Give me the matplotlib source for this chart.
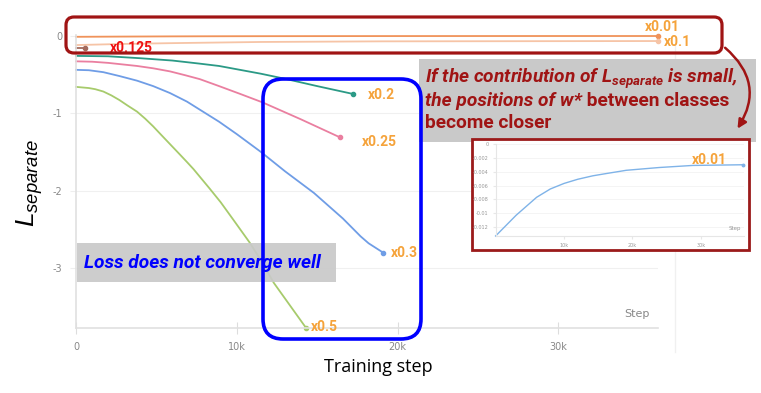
import numpy as np
import matplotlib
matplotlib.use("Agg")
import matplotlib.pyplot as plt
from matplotlib.patches import FancyBboxPatch, FancyArrowPatch, Rectangle

plt.rcParams['mathtext.fontset'] = 'custom'
plt.rcParams['mathtext.it'] = 'Liberation Sans:italic'
plt.rcParams['mathtext.rm'] = 'Liberation Sans'
plt.rcParams['mathtext.bf'] = 'Roboto:bold:italic'

# --- data (steps in thousands) ---
x001_steps = [0, 1, 2.1, 3, 4.5, 6.0, 8, 10.0, 12, 14.2, 16, 19.1, 23.9, 28.8, 36.2]
x001_vals = [-0.0133, -0.0123, -0.0112, -0.0103, -0.0090, -0.0077, -0.0065, -0.0057,
             -0.0051, -0.0046, -0.0043, -0.0038, -0.0034, -0.0031, -0.0030]

x01_steps = [0, 3, 6, 11.5, 19, 36.2]
x01_vals = [-0.12, -0.105, -0.095, -0.08, -0.072, -0.068]

x0125_steps = [0, 0.53]
x0125_vals = [-0.155, -0.155]

x02_steps = [0, 2, 4, 6, 7.7, 8.9, 10.2, 11.5, 13.1, 15, 17.2]
x02_vals = [-0.26, -0.265, -0.29, -0.32, -0.36, -0.39, -0.44, -0.49, -0.56, -0.65, -0.75]

x025_steps = [0, 1, 2, 3.8, 4.8, 5.85, 6.8, 7.7, 8.9, 10.2, 11.6, 14, 16.4]
x025_vals = [-0.33, -0.335, -0.35, -0.39, -0.42, -0.46, -0.51, -0.56, -0.65, -0.75,
             -0.86, -1.08, -1.31]

x03_steps = [0, 0.8, 1.7, 2.7, 3.8, 4.8, 5.85, 6.9, 7.9, 8.9, 10, 11.5, 13, 14.8,
             16.6, 17.7, 18.2, 19.1]
x03_vals = [-0.44, -0.445, -0.47, -0.52, -0.58, -0.65, -0.74, -0.85, -0.98, -1.11,
            -1.27, -1.50, -1.75, -2.03, -2.36, -2.59, -2.68, -2.80]

x05_steps = [0, 0.8, 1.2, 1.7, 2.2, 2.7, 3.2, 3.8, 4.3, 4.8, 5.3, 5.85, 6.4, 6.9, 7.3,
             7.7, 8.3, 9, 9.8, 10.8, 11.5, 12.3, 13.3, 14.3]
x05_vals = [-0.66, -0.675, -0.69, -0.72, -0.77, -0.83, -0.90, -0.98, -1.07, -1.17, -1.28,
            -1.40, -1.52, -1.63, -1.72, -1.82, -1.97, -2.15, -2.38, -2.67, -2.90, -3.19,
            -3.48, -3.77]

series = [
    (x001_steps, x001_vals, '#f0935a', 'x0.01'),
    (x01_steps, x01_vals, '#f6c4a6', 'x0.1'),
    (x0125_steps, x0125_vals, '#a46a5c', 'x0.125'),
    (x02_steps, x02_vals, '#2b9a86', 'x0.2'),
    (x025_steps, x025_vals, '#ea7fa0', 'x0.25'),
    (x03_steps, x03_vals, '#6f9de6', 'x0.3'),
    (x05_steps, x05_vals, '#a7cb6c', 'x0.5'),
]

W, H = 761, 393
fig = plt.figure(figsize=(W / 100, H / 100), dpi=100)

def frect(l, t, r, b):
    return [l / W, 1 - b / H, (r - l) / W, (b - t) / H]

ax = fig.add_axes(frect(76, 35, 658, 327.7), zorder=1)
for xs, ys, c, name in series:
    ax.plot(np.array(xs) * 1000, ys, color=c, lw=1.3, clip_on=False)
    ax.plot([xs[-1] * 1000], [ys[-1]], 'o', color=c, ms=3, clip_on=False)
ax.set_xlim(0, 36200)
ax.set_ylim(-3.77, 0.01)
ax.set_xticks([0, 10000, 20000, 30000])
ax.set_xticklabels(['0', '10k', '20k', '30k'])
ax.set_yticks([0, -1, -2, -3])
ax.set_yticklabels(['0', '-1', '-2', '-3'])
ax.tick_params(axis='x', colors='#dddddd', labelcolor='#888888', labelsize=7,
               direction='inout', length=8, pad=6)
ax.tick_params(axis='y', colors='#eeeeee', labelcolor='#888888', labelsize=7,
               length=4, pad=6)
ax.grid(axis='y', color='#f0f0f0', lw=0.8)
for s in ['top', 'right']:
    ax.spines[s].set_visible(False)
for s in ['left', 'bottom']:
    ax.spines[s].set_color('#e0e0e0')
    ax.spines[s].set_linewidth(1.2)
ax.text(0.985, 0.03, 'Step', transform=ax.transAxes, ha='right', va='bottom',
        fontsize=8, color='#888888')

# overlay in pixel coordinates
ov = fig.add_axes([0, 0, 1, 1], zorder=2)
ov.set_xlim(0, W)
ov.set_ylim(H, 0)
ov.axis('off')
ov.patch.set_alpha(0)

ov.plot([675, 675], [45, 352], color='#f0f0f0', lw=1, zorder=0)

ov.text(30, 183, r'$L_{separate}$', rotation=90, fontsize=19, ha='center', va='center')
ov.text(378, 367, 'Training step', fontsize=13, ha='center', va='center',
        family='Open Sans')

orange = '#f5a33b'
lab = dict(fontsize=10, fontweight='bold', family='Roboto', va='center', color=orange)
ov.text(645, 27, 'x0.01', **lab)
ov.text(664, 42, 'x0.1', **lab)
ov.text(368, 95, 'x0.2', **lab)
ov.text(362, 142, 'x0.25', **lab)
ov.text(391, 253, 'x0.3', **lab)
ov.text(311, 327, 'x0.5', **lab)
ov.text(110, 48, 'x0.125', fontsize=10, fontweight='bold', family='Roboto',
        va='center', color='#ee1111')

# dark red top box + arrow
dred = '#a01414'
ov.add_patch(FancyBboxPatch((66, 17), 722 - 66, 53 - 17,
                            boxstyle='round,pad=0,rounding_size=8',
                            fc='none', ec=dred, lw=2.3, zorder=3))
ov.add_patch(FancyArrowPatch((723, 46), (736, 131), connectionstyle='arc3,rad=-0.45',
                             arrowstyle='-|>', mutation_scale=13, color=dred, lw=1.8,
                             zorder=3))

# gray note box
fs = 13.8
ov.add_patch(Rectangle((419, 59), 756 - 419, 142 - 59, fc='#c9c9c9', ec='none', zorder=1))
tsty = dict(fontsize=fs, color=dred, family='Roboto', fontweight='bold', va='center')
ov.text(425, 79, r'If the contribution of $\mathbf{L}_{\mathbf{separate}}$ is small,',
        style='italic', **tsty)
t2 = ov.text(425, 101, 'the positions of w*', style='italic', **tsty)
ov.annotate(' between classes', xy=(1, 0.5), xycoords=t2, va='center',
            fontsize=fs, color=dred, family='Roboto', fontweight='bold')
ov.text(425, 123, 'become closer', **tsty)

# loss note box
ov.add_patch(Rectangle((77, 243), 336 - 77, 282 - 243, fc='#c9c9c9', ec='none',
                       alpha=0.92, zorder=1))
ov.text(84, 263, 'Loss does not converge well', fontsize=fs, color='#0000ff',
        family='Roboto', fontweight='bold', style='italic', va='center', zorder=4)

# blue box
ov.add_patch(FancyBboxPatch((263, 79), 421 - 263, 339 - 79,
                            boxstyle='round,pad=0,rounding_size=20',
                            fc='none', ec='#0000ff', lw=2.6, zorder=3))

# inset frame
ov.add_patch(Rectangle((472, 139), 749 - 472, 250 - 139, fc='white', ec='#9b1a1a',
                       lw=2, zorder=5))

ins = fig.add_axes(frect(495.6, 144, 744, 236), zorder=3)
ins.patch.set_alpha(0)
ins.plot(np.array(x001_steps) * 1000, x001_vals, color='#7fb3e8', lw=1, clip_on=False)
ins.plot([x001_steps[-1] * 1000], [x001_vals[-1]], 'o', color='#7fb3e8', ms=1.8,
         clip_on=False)
ins.set_xlim(0, 36300)
ins.set_ylim(-0.0133, 0)
ins.set_xticks([10000, 20000, 30000])
ins.set_xticklabels(['10k', '20k', '30k'])
ins.set_yticks([0, -0.002, -0.004, -0.006, -0.008, -0.01, -0.012])
ins.set_yticklabels(['0', '-0.002', '-0.004', '-0.006', '-0.008', '-0.01', '-0.012'])
ins.tick_params(colors='#e8e8e8', labelcolor='#999999', labelsize=3.5, length=2, pad=3)
ins.grid(axis='y', color='#f2f2f2', lw=0.6)
for s in ['top', 'right']:
    ins.spines[s].set_visible(False)
for s in ['left', 'bottom']:
    ins.spines[s].set_color('#e6e6e6')
ins.text(0.99, 0.05, 'Step', transform=ins.transAxes, ha='right', va='bottom',
         fontsize=4, color='#999999')
ins.text(0.79, 0.83, 'x0.01', transform=ins.transAxes, fontsize=10, fontweight='bold',
         family='Roboto', color=orange, va='center')

fig.savefig('out.png', dpi=100)
